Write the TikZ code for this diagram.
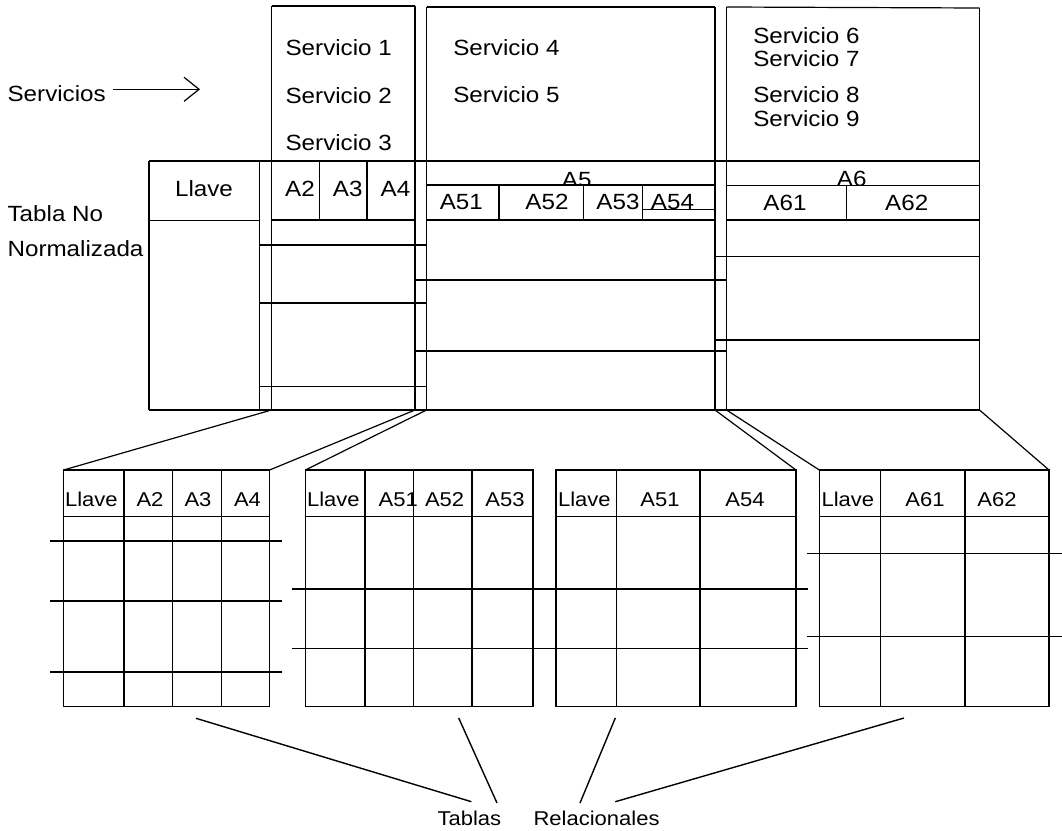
\documentclass[tikz,border=0pt]{standalone}
\usepackage{fontspec}
\setmainfont{Liberation Sans}[FakeStretch=1.1]
\usetikzlibrary{arrows.meta}
\begin{document}
\begin{tikzpicture}[x=1pt,y=-1pt,line width=1.2pt,
  lbl/.style={inner sep=0pt,font=\fontsize{22}{26}\selectfont,anchor=base west},
  hd/.style={inner sep=0pt,font=\fontsize{22}{26}\selectfont,anchor=base},
  th/.style={inner sep=0pt,font=\fontsize{20}{24}\selectfont,anchor=base},
  thw/.style={inner sep=0pt,font=\fontsize{20}{24}\selectfont,anchor=base west},
  captxt/.style={inner sep=0pt,font=\fontsize{20}{24}\selectfont,anchor=base west},
  tbl/.style={draw,rectangle,inner sep=0pt,outer sep=0pt,anchor=north west,minimum height=236.7pt},
  link/.style={line width=1.2pt},
  pointer/.style={line width=1.4pt}]
\useasboundingbox (0,0) rectangle (1062,830);

% ---------- left labels ----------
\node[lbl] (servicios) at (7,101.7) {Servicios};
\coordinate (arrtip) at (200,89.3);
\draw[-{Straight Barb[length=15pt,width=24pt]}] (servicios.base east) ++(7,-12.4) -- (arrtip);
\node[lbl] (tablano) at (7,221.7) {Tabla No};
\node[lbl] (normal) at (7,256.7) {Normalizada};

% ---------- upper (non normalised) table ----------
% verticals
\draw (149,161) -- (149,410);
\draw (259.5,161) -- (259.5,410);
\draw (271.5,6) -- (271.5,410);
\draw (415,6) -- (415,410);
\draw (426.5,7) -- (426.5,410);
\draw (715,7) -- (715,410);
\draw (726.5,7) -- (726.5,410);
\draw (979.5,8) -- (979.5,410);
% top edges
\draw (271.5,6) -- (415,6);
\draw (426.5,7) -- (715,7);
\draw (726.5,7) -- (979.5,8);
% long horizontals
\draw (149,161) -- (979.5,161);
\draw (149,410) -- (979.5,410);
% header rows
\draw (426.5,185) -- (715,185);
\draw (726.5,185.5) -- (979.5,185.5);
\draw (149,220.5) -- (259.5,220.5);
\draw (271.5,220) -- (415,220);
\draw (426.5,220) -- (715,220);
\draw (726.5,220) -- (979.5,220);
% data rows
\draw (259.5,245) -- (426.5,245);
\draw (259.5,303) -- (426.5,303);
\draw (259.5,386.7) -- (426.5,386.7);
\draw (415,280) -- (726.5,280);
\draw (415,351) -- (726.5,351);
\draw (715,256.7) -- (979.5,256.7);
\draw (715,340) -- (979.5,340);
% header cell dividers
\draw (319.5,161) -- (319.5,220);
\draw (367,161) -- (367,220);
\draw (499,185) -- (499,220);
\draw (583.7,185) -- (583.7,220);
\draw (642.3,185) -- (642.3,220);
\draw (643,209.3) -- (714,209.3);
\draw (846.7,185) -- (846.7,220);

% services
\node[lbl] (s1) at (285,55) {Servicio 1};
\node[lbl] (s2) at (285,103.3) {Servicio 2};
\node[lbl] (s3) at (285,150.7) {Servicio 3};
\node[lbl] (s4) at (452.7,55) {Servicio 4};
\node[lbl] (s5) at (452.7,102.3) {Servicio 5};
\node[lbl] (s6) at (752.7,43.3) {Servicio 6};
\node[lbl] (s7) at (752.7,66.7) {Servicio 7};
\node[lbl] (s8) at (752.7,102.7) {Servicio 8};
\node[lbl] (s9) at (752.7,126) {Servicio 9};

% header texts
\node[hd] (hllave) at (204,196.7) {Llave};
\node[hd] (ha2) at (300,196.7) {A2};
\node[hd] (ha3) at (347.7,196.7) {A3};
\node[hd] (ha4) at (395.5,196.7) {A4};
\begin{scope}
  \clip (426,150) rectangle (980,185);
  \node[hd] (ha5) at (576.7,187) {A5};
  \node[hd] (ha6) at (851.7,186.5) {A6};
\end{scope}
\node[hd] (ha51) at (461.3,209.3) {A51};
\node[hd] (ha52) at (547,209.3) {A52};
\node[hd] (ha53) at (618,209.3) {A53};
\node[hd] (ha54) at (672.5,209.3) {A54};
\node[hd] (ha61) at (785,210) {A61};
\node[hd] (ha62) at (906.7,210) {A62};

% column bottom corners
\coordinate (c1l) at (271.5,410);
\coordinate (c1r) at (415,410);
\coordinate (c2l) at (426.5,410);
\coordinate (c2r) at (715,410);
\coordinate (c3l) at (726.5,410);
\coordinate (c3r) at (979.5,410);

% ---------- relational tables ----------
\node[tbl,minimum width=206pt] (t1) at (63.6,470) {};
\node[tbl,minimum width=227.6pt] (t2) at (305.4,470) {};
\node[tbl,minimum width=240pt] (t3) at (556,470) {};
\node[tbl,minimum width=229.7pt] (t4) at (819.3,470) {};

% header lines
\draw (t1.north west) ++(0,46.7) -- ++(206,0);
\draw (t2.north west) ++(0,46.7) -- ++(227.6,0);
\draw (t3.north west) ++(0,46.7) -- ++(240,0);
\draw (t4.north west) ++(0,46.7) -- ++(229.7,0);
% column lines
\foreach \x in {124,172.5,221.4,365,413.2,472,616.7,700,880.7,965}
  \draw (\x,470) -- (\x,706.7);
% row lines
\foreach \y in {541,601,672}
  \draw (50,\y) -- (282,\y);
\foreach \y in {589,648.3}
  \draw (292,\y) -- (808,\y);
\foreach \y in {553.3,636.7}
  \draw (806.5,\y) -- (1062,\y);

% table headers
\node[thw] (t1k) at (64.5,506) {Llave};
\node[th] (t1a2) at (150,506) {A2};
\node[th] (t1a3) at (198,506) {A3};
\node[th] (t1a4) at (247.5,506) {A4};
\node[thw] (t2k) at (306.5,506) {Llave};
\node[thw] (t2a51) at (378,506) {A51};
\node[th] (t2a52) at (444.6,506) {A52};
\node[th] (t2a53) at (505,506) {A53};
\node[thw] (t3k) at (557.5,506) {Llave};
\node[th] (t3a51) at (660,506) {A51};
\node[th] (t3a54) at (745,506) {A54};
\node[thw] (t4k) at (821,506) {Llave};
\node[th] (t4a61) at (925,506) {A61};
\node[th] (t4a62) at (997,506) {A62};

% connectors from upper table to relational tables
\draw[link] (c1l) -- (t1.north west);
\draw[link] (c1r) -- (t1.north east);
\draw[link] (c2l) -- (t2.north west);
\draw[link] (c2r) -- (t3.north east);
\draw[link] (c3l) -- (t4.north west);
\draw[link] (c3r) -- (t4.north east);

% ---------- bottom caption ----------
\node[captxt] (tablas) at (437,825) {Tablas};
\node[captxt] (relac) at (533,825) {Relacionales};
\coordinate (p1a) at (196,718.3);  \coordinate (p1b) at (471.4,801.7);
\coordinate (p2a) at (458.7,718);  \coordinate (p2b) at (497,803);
\coordinate (p3a) at (615.3,718);  \coordinate (p3b) at (580,803);
\coordinate (p4a) at (904,718);    \coordinate (p4b) at (615.3,801.7);
\draw[pointer] (p1a) -- (p1b);
\draw[pointer] (p2a) -- (p2b);
\draw[pointer] (p3a) -- (p3b);
\draw[pointer] (p4a) -- (p4b);
\end{tikzpicture}
\end{document}
